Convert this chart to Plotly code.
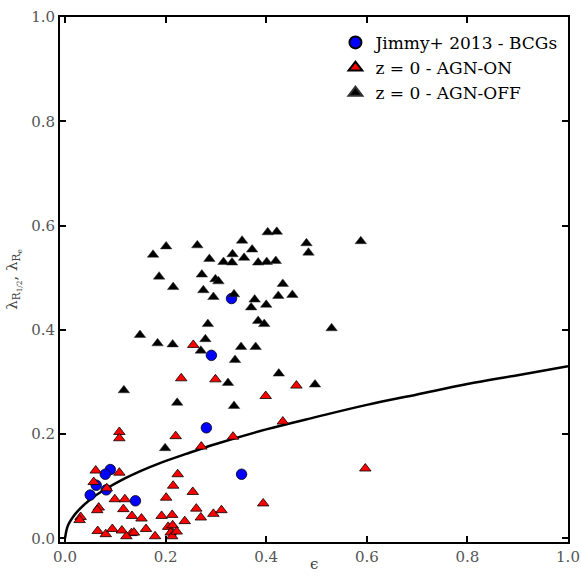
import plotly.graph_objects as go

# Jimmy+ 2013 BCGs
bcg_eps = [0.331, 0.291, 0.281, 0.351, 0.140, 0.090, 0.080, 0.062, 0.050, 0.082]
bcg_lam = [0.460, 0.351, 0.212, 0.123, 0.072, 0.132, 0.123, 0.102, 0.083, 0.093]

# z = 0, AGN-ON
on_eps = [0.108, 0.108, 0.220, 0.271, 0.334, 0.433, 0.399, 0.255, 0.231, 0.299,
          0.061, 0.108, 0.224, 0.057, 0.083, 0.215, 0.254, 0.099, 0.119, 0.201,
          0.067, 0.064, 0.116, 0.031, 0.029, 0.133, 0.152, 0.192, 0.213, 0.238,
          0.261, 0.270, 0.295, 0.311, 0.394, 0.597, 0.460, 0.065, 0.081, 0.094,
          0.113, 0.132, 0.137, 0.122, 0.161, 0.179, 0.205, 0.210, 0.214, 0.213,
          0.222]
on_lam = [0.204, 0.192, 0.196, 0.176, 0.195, 0.224, 0.273, 0.371, 0.307, 0.305,
          0.130, 0.126, 0.123, 0.108, 0.096, 0.101, 0.089, 0.075, 0.075, 0.078,
          0.059, 0.054, 0.056, 0.041, 0.035, 0.043, 0.038, 0.043, 0.045, 0.033,
          0.057, 0.040, 0.047, 0.054, 0.067, 0.134, 0.293, 0.014, 0.008, 0.018,
          0.015, 0.010, 0.011, 0.004, 0.018, 0.004, 0.022, 0.011, 0.025, 0.004,
          0.013]

# z = 0, AGN-OFF
off_eps = [0.175, 0.201, 0.263, 0.287, 0.315, 0.333, 0.332, 0.352, 0.372, 0.356,
           0.384, 0.401, 0.419, 0.403, 0.421, 0.187, 0.215, 0.272, 0.299, 0.305,
           0.275, 0.295, 0.336, 0.377, 0.370, 0.400, 0.424, 0.384, 0.396, 0.284,
           0.149, 0.184, 0.214, 0.279, 0.270, 0.350, 0.379, 0.338, 0.425, 0.324,
           0.223, 0.336, 0.480, 0.484, 0.588, 0.433, 0.452, 0.530, 0.497, 0.199,
           0.117]
off_lam = [0.544, 0.560, 0.562, 0.536, 0.530, 0.545, 0.529, 0.571, 0.554, 0.538,
           0.529, 0.530, 0.532, 0.587, 0.588, 0.502, 0.482, 0.506, 0.497, 0.493,
           0.476, 0.463, 0.468, 0.458, 0.443, 0.448, 0.465, 0.417, 0.411, 0.411,
           0.390, 0.374, 0.372, 0.382, 0.360, 0.367, 0.367, 0.342, 0.316, 0.298,
           0.260, 0.254, 0.566, 0.548, 0.570, 0.488, 0.467, 0.403, 0.295, 0.173,
           0.284]

# dividing curve
curve_eps = [0.000, 0.003, 0.006, 0.013, 0.026, 0.052, 0.085, 0.119, 0.152, 0.185,
             0.241, 0.300, 0.400, 0.500, 0.600, 0.700, 0.800, 0.900, 1.000]
curve_lam = [0.000, 0.016, 0.025, 0.037, 0.053, 0.076, 0.097, 0.115, 0.130, 0.143,
             0.162, 0.181, 0.209, 0.233, 0.256, 0.276, 0.296, 0.313, 0.330]

serif = "DejaVu Serif"

fig = go.Figure()

fig.add_trace(go.Scatter(
    x=curve_eps, y=curve_lam, mode='lines', line=dict(color='black', width=2.5, shape='spline'),
    showlegend=False, hoverinfo='skip'))

fig.add_trace(go.Scatter(
    x=bcg_eps, y=bcg_lam, mode='markers', name='Jimmy+ 2013 - BCGs', legendrank=1,
    marker=dict(symbol='circle', size=10.5, color='#0000ff', line=dict(color='black', width=0.8))))

fig.add_trace(go.Scatter(
    x=off_eps, y=off_lam, mode='markers', name='z = 0 - AGN-OFF', legendrank=3,
    marker=dict(symbol='triangle-up', size=10, color='black', line=dict(color='#333333', width=0.5))))

fig.add_trace(go.Scatter(
    x=on_eps, y=on_lam, mode='markers', name='z = 0 - AGN-ON', legendrank=2,
    marker=dict(symbol='triangle-up', size=10, color='#ff0000', line=dict(color='black', width=0.8))))

axis_common = dict(
    showgrid=False, zeroline=False, showline=True, linecolor='black', linewidth=2,
    mirror='ticks', ticks='inside', ticklen=6, tickwidth=1.5, tickcolor='black', automargin=False,
    tickfont=dict(family=serif, size=15, color='#555555'), dtick=0.2, tickformat='.1f')

fig.update_layout(
    width=581, height=578,
    margin=dict(l=60, r=13, t=17, b=36),
    plot_bgcolor='white', paper_bgcolor='white',
    xaxis=dict(range=[-0.01, 1.0], **axis_common),
    yaxis=dict(range=[-0.007, 1.0], title=dict(text='λ<sub>R<sub>1/2</sub></sub>, λ<sub>R<sub>e</sub></sub>',
                                               font=dict(family=serif, size=15, color='#444444'), standoff=10), **axis_common),
    legend=dict(x=0.993, y=0.985, xanchor='right', yanchor='top', bgcolor='rgba(0,0,0,0)',
                font=dict(family=serif, size=17, color='black'), tracegroupgap=0, itemsizing='constant'),
)

# x title sits closer to the tick labels than plotly's own title allows
fig.add_annotation(text='ϵ', xref='paper', yref='paper', x=0.5, y=-0.041, xanchor='center', yanchor='middle',
                   showarrow=False, font=dict(family=serif, size=15, color='#444444'))

# drop the default 8px body margin so the figure fills the window exactly
fig.write_html("out.html", config={'displayModeBar': False},
               post_script="document.body.style.margin='0';document.body.style.overflow='hidden';")
